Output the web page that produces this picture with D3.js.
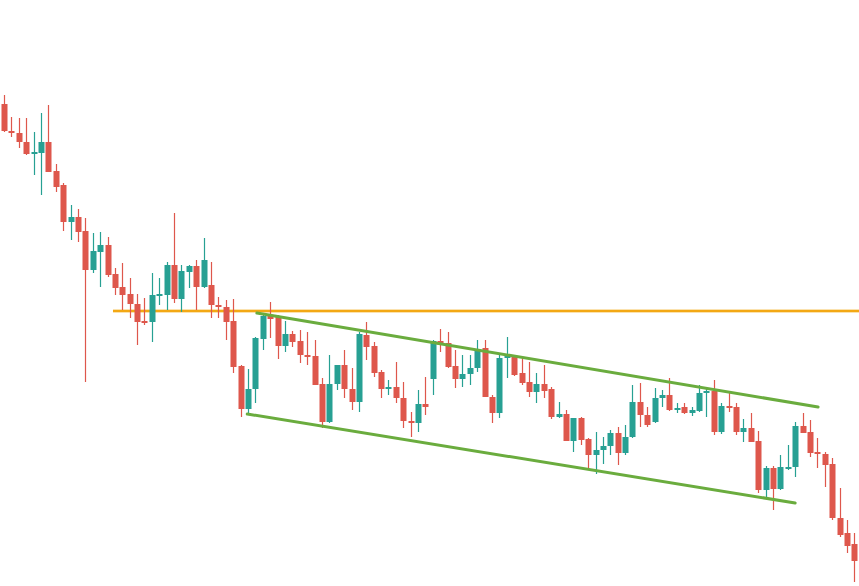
<!DOCTYPE html>
<html>
<head>
<meta charset="utf-8">
<script src="https://cdn.jsdelivr.net/npm/d3@7"></script>
<style>
  html, body { margin: 0; padding: 0; background: #ffffff; }
  svg { display: block; }
</style>
</head>
<body>
<svg id="chart" width="859" height="586"></svg>
<script>
// ---- data (price units, arbitrary) ----
const openV = [516,489,487,478,466,467,478,449,435,398,403,389,350,368,375,346,333,326,316,299,298,324,325,355,321,348,354,333,335,315,313,299,254,211,231,281,304,303,274,286,279,265,264,236,198,236,255,231,218,285,274,248,231,233,222,199,197,216,241,279,277,254,241,246,252,272,223,207,263,263,247,238,228,236,231,203,206,179,202,181,165,170,174,187,167,183,218,205,198,222,225,210,213,207,209,227,229,188,214,213,188,192,179,130,152,131,152,153,194,188,168,166,156,102,87,76];
const highV = [525,503,502,502,488,507,515,456,437,415,411,402,387,388,383,352,357,342,326,322,347,342,358,407,355,355,360,382,358,323,320,321,255,251,283,307,318,305,299,289,290,288,280,242,265,255,270,252,288,298,278,250,240,258,238,208,230,243,280,291,288,270,265,265,280,280,225,267,283,265,262,258,247,255,233,218,210,202,203,182,188,183,190,193,195,235,237,213,232,230,242,217,217,213,235,232,240,217,227,217,201,207,189,154,154,165,175,198,207,200,182,168,162,132,100,87];
const lowV = [488,483,472,465,445,425,448,428,389,380,378,238,347,333,343,325,310,302,275,295,278,315,310,317,308,332,310,332,302,302,280,247,203,207,217,270,282,261,268,273,257,255,235,192,197,230,222,210,208,260,243,222,225,217,192,183,188,205,225,268,252,232,233,235,248,223,197,202,242,244,235,223,217,222,201,202,179,168,175,150,146,156,165,155,165,182,193,193,197,213,209,207,206,204,208,203,185,186,208,185,178,178,127,122,110,130,150,143,187,163,152,133,100,83,67,38];
const closeV = [489,487,478,466,468,478,448,433,398,403,388,350,369,375,345,332,325,316,298,297,325,326,355,321,349,354,333,360,315,313,298,253,211,231,282,304,301,274,286,278,265,263,235,198,236,255,231,218,286,273,247,231,233,222,199,197,216,213,279,275,253,241,246,252,271,223,207,262,264,245,237,228,236,229,203,206,179,202,180,165,170,174,187,167,183,218,205,195,222,225,210,212,207,210,227,229,188,214,213,188,192,178,130,152,131,153,153,194,187,167,166,155,102,85,74,59];

// reference lines: [startIndex, startPrice, endIndex, endPrice]
const resistanceLine = [14.74, 309, 116.5, 309];
const channelUpper = [34.2, 307, 110.1, 213];
const channelLower = [32.9, 206, 107.0, 117];

const candles = openV.map((o, i) => ({ i, o, h: highV[i], l: lowV[i], c: closeV[i] }));

const svg = d3.select("#chart");
const x = d3.scaleLinear().domain([0, 115]).range([4, 854.3]);
const y = d3.scaleLinear().domain([620, 20]).range([0, 600]);

const UP = "#27a093", DOWN = "#de574c";
const bodyW = 6;

// resistance line (behind candles)
svg.append("line")
  .attr("x1", x(resistanceLine[0])).attr("y1", y(resistanceLine[1]))
  .attr("x2", x(resistanceLine[2])).attr("y2", y(resistanceLine[3]))
  .attr("stroke", "#f9cf7a").attr("stroke-width", 4).attr("opacity", 0.6);
svg.append("line")
  .attr("x1", x(resistanceLine[0])).attr("y1", y(resistanceLine[1]))
  .attr("x2", x(resistanceLine[2])).attr("y2", y(resistanceLine[3]))
  .attr("stroke", "#f3a814").attr("stroke-width", 2);

const g = svg.append("g");
const cg = g.selectAll("g.candle").data(candles).join("g").attr("class", "candle");

cg.append("line")
  .attr("x1", d => Math.round(x(d.i)) + 0.5)
  .attr("x2", d => Math.round(x(d.i)) + 0.5)
  .attr("y1", d => y(d.h))
  .attr("y2", d => y(d.l))
  .attr("stroke", d => d.c >= d.o ? UP : DOWN)
  .attr("stroke-width", 1.2);

cg.append("rect")
  .attr("x", d => Math.round(x(d.i)) + 0.5 - bodyW / 2)
  .attr("width", bodyW)
  .attr("y", d => Math.min(y(d.o), y(d.c)))
  .attr("height", d => Math.max(2, Math.abs(y(d.o) - y(d.c))))
  .attr("fill", d => d.c >= d.o ? UP : DOWN);

// channel lines
[channelUpper, channelLower].forEach(l => {
  svg.append("line")
    .attr("x1", x(l[0])).attr("y1", y(l[1]))
    .attr("x2", x(l[2])).attr("y2", y(l[3]))
    .attr("stroke", "#6aac3e").attr("stroke-width", 3)
    .attr("stroke-linecap", "round");
});
</script>
</body>
</html>
